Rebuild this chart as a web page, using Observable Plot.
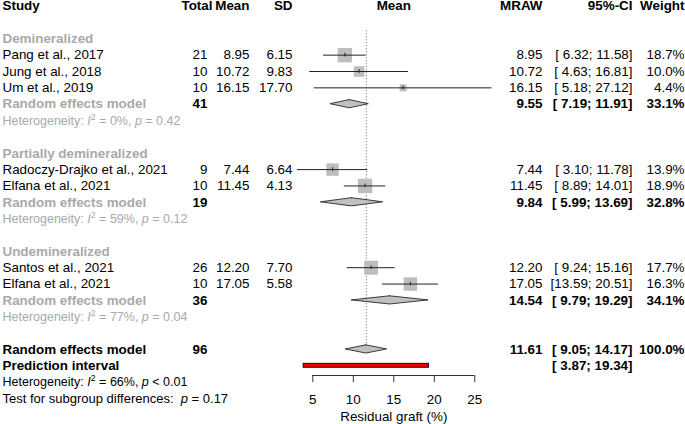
<!DOCTYPE html>
<html>
<head>
<meta charset="utf-8">
<script src="https://cdn.jsdelivr.net/npm/d3@7"></script>
<script src="https://cdn.jsdelivr.net/npm/@observablehq/plot@0.6"></script>
<style>
  body { margin: 0; background: #fff; }
  #chart svg { display: block; }
</style>
</head>
<body>
<div id="chart"></div>
<script>
// ---------------- data ----------------
const groups = ["Demineralized", "Partially demineralized", "Undemineralized"];
const studies = ["Pang et al., 2017", "Jung et al., 2018", "Um et al., 2019",
                 "Radoczy-Drajko et al., 2021", "Elfana et al., 2021",
                 "Santos et al., 2021", "Elfana et al., 2021"];
const studyGroup = [0, 0, 0, 1, 1, 2, 2];
const studyTotal = [21, 10, 10, 9, 10, 26, 10];
const studyMean = [8.95, 10.72, 16.15, 7.44, 11.45, 12.20, 17.05];
const studySD = [6.15, 9.83, 17.70, 6.64, 4.13, 7.70, 5.58];
const studyLow = [6.32, 4.63, 5.18, 3.10, 8.89, 9.24, 13.59];
const studyHigh = [11.58, 16.81, 27.12, 11.78, 14.01, 15.16, 20.51];
const studyWeight = [18.7, 10.0, 4.4, 13.9, 18.9, 17.7, 16.3];

const groupTotal = [41, 19, 36];
const groupEst = [9.55, 9.84, 14.54];
const groupLow = [7.19, 5.99, 9.79];
const groupHigh = [11.91, 13.69, 19.29];
const groupWeight = [33.1, 32.8, 34.1];
const groupI2 = ["0%", "59%", "77%"];
const groupP = ["= 0.42", "= 0.12", "= 0.04"];

const overallTotal = 96;
const overallEst = 11.61;
const overallLow = 9.05;
const overallHigh = 14.17;
const overallWeight = 100.0;
const predLow = 3.87;
const predHigh = 19.34;
const overallI2 = "66%";
const overallP = "< 0.01";
const subgroupP = "= 0.17";

const headers = ["Study", "Total", "Mean", "SD", "Mean", "MRAW", "95%-CI", "Weight"];
const xTicks = [5, 10, 15, 20, 25];
const xLabel = "Residual graft (%)";

// ---------------- layout ----------------
const W = 685, H = 424;
const ROW0 = 5.6, ROWH = 16.35, NROWS = 24;
const AXIS_ROW = (375 - ROW0) / ROWH;
const GRAY_TXT = "#a9a9a9";
const FS = 13.4, FS_SMALL = 12.5, FS_TEST = 13;
const COL = {study: 2, total: 207, totalHead: 212, mean: 249, sd: 292, mraw: 542, ci: 632, weight: 684};
const FONT = "'Liberation Sans', Arial, Helvetica, sans-serif";

const f2 = v => v.toFixed(2);
const ciStr = (lo, hi) => `[${f2(lo).padStart(5, " ")}; ${f2(hi).padStart(5, " ")}]`;
const wStr = v => v.toFixed(1) + "%";

// ---------------- build rows ----------------
const studyRows = [];
const groupRows = [];
let r = 2;
groups.forEach((g, gi) => {
  const idx = studies.map((_, i) => i).filter(i => studyGroup[i] === gi);
  const labelRow = r;
  idx.forEach((i, k) => {
    studyRows.push({
      row: r + 1 + k, name: studies[i], total: studyTotal[i], mean: studyMean[i], sd: studySD[i],
      lo: studyLow[i], hi: studyHigh[i], w: studyWeight[i]
    });
  });
  const remRow = r + 1 + idx.length;
  groupRows.push({
    labelRow, remRow, hetRow: remRow + 1, name: g, total: groupTotal[gi], est: groupEst[gi],
    lo: groupLow[gi], hi: groupHigh[gi], w: groupWeight[gi],
    het: `Heterogeneity: I2 = ${groupI2[gi]}, p ${groupP[gi]}`
  });
  r = remRow + 3;
});
const overallRow = r;             // 21
const predRow = r + 1;            // 22
const overallHetRow = r + 2;      // 23
const testRow = r + 3;            // 24

const diamondPts = [];
groupRows.forEach((g, i) => {
  diamondPts.push({id: i, y: g.remRow - 0.25, x1: g.est, x2: g.est});
  diamondPts.push({id: i, y: g.remRow, x1: g.lo, x2: g.hi});
  diamondPts.push({id: i, y: g.remRow + 0.25, x1: g.est, x2: g.est});
});
diamondPts.push({id: 9, y: overallRow - 0.25, x1: overallEst, x2: overallEst});
diamondPts.push({id: 9, y: overallRow, x1: overallLow, x2: overallHigh});
diamondPts.push({id: 9, y: overallRow + 0.25, x1: overallEst, x2: overallEst});

const headerCols = [
  {t: headers[0], dx: COL.study, a: "start"},
  {t: headers[1], dx: COL.totalHead, a: "end"},
  {t: headers[2], dx: COL.mean, a: "end"},
  {t: headers[3], dx: COL.sd, a: "end"},
  {t: headers[4], dx: null, a: "middle"},
  {t: headers[5], dx: COL.mraw, a: "end"},
  {t: headers[6], dx: COL.ci, a: "end"},
  {t: headers[7], dx: COL.weight, a: "end"}
];

function col(data, text, dx, anchor, opts = {}) {
  return Plot.text(data, {
    y: opts.y || "row", text, frameAnchor: "left", dx, textAnchor: anchor,
    fontSize: opts.fontSize || FS, fontWeight: opts.bold ? "bold" : "normal",
    fill: opts.fill || "black"
  });
}

const xMid = d3.mean(d3.extent(xTicks));

const plot = Plot.plot({
  width: W, height: H,
  marginTop: 0, marginLeft: 0, marginRight: 0, marginBottom: H - 375,
  x: {domain: d3.extent(xTicks), range: [312.3, 474.3]},
  y: {domain: [0, NROWS], range: [ROW0, ROW0 + NROWS * ROWH]},
  r: {domain: [0, 20], range: [0, 8.36]},
  style: {fontFamily: FONT, fontSize: FS + "px", background: "white", overflow: "visible"},
  marks: [
    // header
    ...headerCols.filter(h => h.dx !== null).map(h =>
      Plot.text([h], {y: () => 0, text: "t", frameAnchor: "left", dx: h.dx, textAnchor: h.a, fontWeight: "bold", fontSize: FS})),
    Plot.text([headerCols[4]], {x: () => xMid, y: () => 0, text: "t", textAnchor: "middle", fontWeight: "bold", fontSize: FS}),

    // reference dotted line at overall effect
    Plot.ruleX([overallEst], {x: d => d, y1: 1.5, y2: overallRow, stroke: "#777", strokeDasharray: "1.2,1.8", strokeWidth: 1}),

    // study squares + CI
    Plot.dot(studyRows, {x: "mean", y: "row", r: "w", symbol: "square", fill: "#bdbdbd", stroke: null}),
    Plot.ruleY(studyRows, {y: "row", x1: "lo", x2: "hi", stroke: "#222", strokeWidth: 1}),
    Plot.ruleX(studyRows, {x: "mean", y1: d => d.row - 0.11, y2: d => d.row + 0.11, stroke: "#222", strokeWidth: 1}),

    // diamonds
    Plot.areaX(diamondPts, {y: "y", x1: "x1", x2: "x2", z: "id", fill: "#c0c0c0", stroke: "#3a3a3a", strokeWidth: 1}),

    // prediction interval
    Plot.rect([{lo: predLow, hi: predHigh}], {x1: "lo", x2: "hi", y1: () => predRow - 0.12, y2: () => predRow + 0.12, fill: "#ee0000", stroke: "#111", strokeWidth: 1}),

    // axis
    Plot.ruleY([AXIS_ROW], {y: d => d, x1: xTicks[0], x2: xTicks[xTicks.length - 1], stroke: "#333"}),
    Plot.axisX({ticks: xTicks, tickSize: 7, tickPadding: 12, fontSize: FS, stroke: "#333", label: null}),
    Plot.text([xLabel], {x: () => xMid, y: () => AXIS_ROW, dy: 41, text: d => d, fontSize: FS, textAnchor: "middle"}),

    // study rows text
    col(studyRows, "name", COL.study, "start"),
    col(studyRows, d => String(d.total), COL.total, "end"),
    col(studyRows, d => f2(d.mean), COL.mean, "end"),
    col(studyRows, d => f2(d.sd), COL.sd, "end"),
    col(studyRows, d => f2(d.mean), COL.mraw, "end"),
    col(studyRows, d => ciStr(d.lo, d.hi), COL.ci, "end"),
    col(studyRows, d => wStr(d.w), COL.weight, "end"),

    // group rows text
    col(groupRows, "name", COL.study, "start", {y: "labelRow", bold: true, fill: GRAY_TXT}),
    col(groupRows, () => "Random effects model", COL.study, "start", {y: "remRow", bold: true, fill: GRAY_TXT}),
    col(groupRows, d => String(d.total), COL.total, "end", {y: "remRow", bold: true}),
    col(groupRows, d => f2(d.est), COL.mraw, "end", {y: "remRow", bold: true}),
    col(groupRows, d => ciStr(d.lo, d.hi), COL.ci, "end", {y: "remRow", bold: true}),
    col(groupRows, d => wStr(d.w), COL.weight, "end", {y: "remRow", bold: true}),
    col(groupRows, "het", COL.study, "start", {y: "hetRow", fill: GRAY_TXT, fontSize: FS_SMALL}),

    // overall
    col([{row: overallRow}], () => "Random effects model", COL.study, "start", {bold: true}),
    col([{row: overallRow}], () => String(overallTotal), COL.total, "end", {bold: true}),
    col([{row: overallRow}], () => f2(overallEst), COL.mraw, "end", {bold: true}),
    col([{row: overallRow}], () => ciStr(overallLow, overallHigh), COL.ci, "end", {bold: true}),
    col([{row: overallRow}], () => wStr(overallWeight), COL.weight, "end", {bold: true}),
    col([{row: predRow}], () => "Prediction interval", COL.study, "start", {bold: true}),
    col([{row: predRow}], () => ciStr(predLow, predHigh), COL.ci, "end", {bold: true}),
    col([{row: overallHetRow}], () => `Heterogeneity: I2 = ${overallI2}, p ${overallP}`, COL.study, "start", {fontSize: FS_SMALL}),
    col([{row: testRow}], () => `Test for subgroup differences: p ${subgroupP}`, COL.study, "start", {fontSize: FS_TEST})
  ]
});

// move each text group's translate (from dx/dy) onto its texts' own transforms
const parseTr = s => {
  const m = s && s.match(/translate\(\s*([-\d.e]+)(?:[ ,]+([-\d.e]+))?\s*\)/);
  return m ? [+m[1], m[2] === undefined ? 0 : +m[2], s.replace(m[0], "").trim()] : null;
};
d3.select(plot).selectAll("g").each(function () {
  const g = d3.select(this);
  const gt = parseTr(g.attr("transform"));
  if (!gt || gt[2] !== "") return;
  const kids = Array.from(this.children);
  if (!kids.length || kids.some(k => k.tagName !== "text")) return;
  kids.forEach(k => {
    const t = d3.select(k);
    const tt = parseTr(t.attr("transform"));
    const x = (tt ? tt[0] : 0) + gt[0], y = (tt ? tt[1] : 0) + gt[1];
    const rest = tt ? tt[2] : (t.attr("transform") || "");
    t.attr("transform", `translate(${x},${y})${rest ? " " + rest : ""}`);
  });
  g.attr("transform", null);
});

// rich text: italic I / p and superscript 2
d3.select(plot).selectAll("text").each(function () {
  const t = this.textContent;
  const sel = d3.select(this);
  let m;
  if ((m = t.match(/^Heterogeneity: I2 = (.*), p (.*)$/))) {
    const fs = parseFloat(sel.attr("font-size")) || FS_SMALL;
    sel.text(null);
    sel.append("tspan").text("Heterogeneity: ");
    sel.append("tspan").attr("font-style", "italic").text("I");
    sel.append("tspan").attr("font-size", fs * 0.7).attr("dy", -fs * 0.4).text("2");
    sel.append("tspan").attr("dy", fs * 0.4).text(` = ${m[1]}, `);
    sel.append("tspan").attr("font-style", "italic").text("p");
    sel.append("tspan").text(` ${m[2]}`);
  } else if ((m = t.match(/^Test for subgroup differences: p (.*)$/))) {
    sel.text(null);
    sel.append("tspan").text("Test for subgroup differences:\u00a0 ");
    sel.append("tspan").attr("font-style", "italic").text("p");
    sel.append("tspan").text(` ${m[1]}`);
  }
});

document.getElementById("chart").append(plot);
</script>
</body>
</html>
